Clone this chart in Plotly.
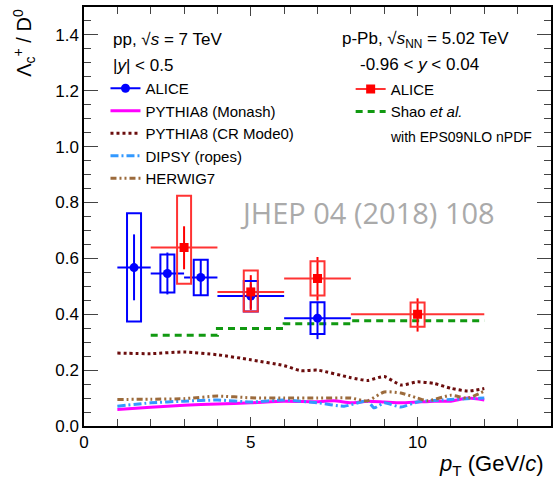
import plotly.graph_objects as go

# ---------------- data ----------------
# ALICE pp 7 TeV (blue)
pp_pt = [1.5, 2.5, 3.5, 5.0, 7.0]
pp_halfbin = [0.5, 0.5, 0.5, 1.0, 1.0]
pp_val = [0.567, 0.546, 0.532, 0.465, 0.386]
pp_stat_up = [0.119, 0.075, 0.065, 0.045, 0.059]
pp_stat_dn = [0.117, 0.075, 0.065, 0.045, 0.075]
pp_sys_hi = [0.762, 0.614, 0.595, 0.519, 0.443]
pp_sys_lo = [0.374, 0.478, 0.468, 0.410, 0.329]

# ALICE p-Pb 5.02 TeV (red)
ppb_pt = [3.0, 5.0, 7.0, 10.0]
ppb_halfbin = [1.0, 1.0, 1.0, 2.0]
ppb_val = [0.639, 0.480, 0.528, 0.400]
ppb_stat_up = [0.076, 0.060, 0.077, 0.057]
ppb_stat_dn = [0.078, 0.065, 0.079, 0.062]
ppb_sys_hi = [0.824, 0.557, 0.590, 0.442]
ppb_sys_lo = [0.509, 0.410, 0.467, 0.355]

# Shao et al. (step)
shao_pt = [2, 4, 6, 8, 12]
shao_val = [0.325, 0.349, 0.366, 0.377, 0.377]

# PYTHIA8 CR Mode0
cr_pt = [1, 2, 3, 4, 5, 6, 6.5, 7, 8, 8.5, 9, 9.5, 10, 10.5, 11, 11.5, 12]
cr_val = [0.261, 0.259, 0.265, 0.255, 0.237, 0.216, 0.198, 0.200, 0.173, 0.163,
          0.177, 0.147, 0.158, 0.152, 0.135, 0.125, 0.134]

# HERWIG7
hw_pt = [1, 2, 3, 4, 5, 6, 7, 8, 8.5, 9, 9.5, 10, 10.3, 11, 11.5, 12]
hw_val = [0.095, 0.096, 0.098, 0.107, 0.101, 0.100, 0.100, 0.100, 0.090, 0.122,
          0.118, 0.100, 0.090, 0.110, 0.100, 0.125]

# DIPSY (ropes)
dp_pt = [1, 2, 3, 4, 5, 6, 7, 7.8, 8.5, 8.7, 9, 9.5, 10, 11, 12]
dp_val = [0.071, 0.083, 0.089, 0.093, 0.086, 0.093, 0.083, 0.071, 0.089, 0.065,
          0.083, 0.068, 0.086, 0.095, 0.100]

# PYTHIA8 Monash
mo_pt = [1, 2, 3, 4, 5, 6, 7, 7.5, 8, 8.5, 9, 9.5, 10, 10.5, 11, 11.5, 12]
mo_val = [0.059, 0.067, 0.074, 0.079, 0.083, 0.089, 0.087, 0.090, 0.083, 0.089,
          0.086, 0.083, 0.086, 0.089, 0.089, 0.100, 0.093]

FONT = "Liberation Sans, Arial, sans-serif"
BLUE = "#0000ff"
RED = "#ff0000"
RED_LINE = "#ff3333"

fig = go.Figure()

# model curves
fig.add_trace(go.Scatter(x=mo_pt, y=mo_val, mode="lines", name="PYTHIA8 (Monash)",
                         line=dict(color="#ff00ff", width=3, shape="spline", smoothing=0.6),
                         legend="legend"))
fig.add_trace(go.Scatter(x=cr_pt, y=cr_val, mode="lines", name="PYTHIA8 (CR Mode0)",
                         line=dict(color="#6b0d0d", width=3, dash="dot", shape="spline", smoothing=0.6),
                         legend="legend"))
fig.add_trace(go.Scatter(x=dp_pt, y=dp_val, mode="lines", name="DIPSY (ropes)",
                         line=dict(color="#3399ff", width=3, dash="8px,3px,2px,3px",
                                   shape="spline", smoothing=0.6),
                         legend="legend"))
fig.add_trace(go.Scatter(x=hw_pt, y=hw_val, mode="lines", name="HERWIG7",
                         line=dict(color="#9c6b3c", width=3, dash="6px,3px,2px,3px,2px,3px",
                                   shape="spline", smoothing=0.6),
                         legend="legend"))
fig.add_trace(go.Scatter(x=shao_pt, y=shao_val, mode="lines", name="Shao <i>et al.</i>",
                         line=dict(color="#119911", width=3, dash="7px,5px", shape="hv"),
                         legend="legend2"))

# systematic boxes
for x, lo, hi in zip(pp_pt, pp_sys_lo, pp_sys_hi):
    fig.add_shape(type="rect", xref="x", yref="y", x0=x - 0.21, x1=x + 0.21, y0=lo, y1=hi,
                  line=dict(color=BLUE, width=2), fillcolor="rgba(0,0,0,0)")
for x, lo, hi in zip(ppb_pt, ppb_sys_lo, ppb_sys_hi):
    fig.add_shape(type="rect", xref="x", yref="y", x0=x - 0.21, x1=x + 0.21, y0=lo, y1=hi,
                  line=dict(color=RED_LINE, width=2), fillcolor="rgba(0,0,0,0)")

# data points
fig.add_trace(go.Scatter(x=pp_pt, y=pp_val, mode="markers", showlegend=False,
                         marker=dict(color=BLUE, size=9, symbol="circle"),
                         error_x=dict(type="data", array=pp_halfbin, color=BLUE, thickness=2, width=0),
                         error_y=dict(type="data", array=pp_stat_up, arrayminus=pp_stat_dn,
                                      color=BLUE, thickness=2, width=0)))
fig.add_trace(go.Scatter(x=ppb_pt, y=ppb_val, mode="markers", showlegend=False,
                         marker=dict(color=RED, size=9, symbol="square"),
                         error_x=dict(type="data", array=ppb_halfbin, color=RED_LINE, thickness=2, width=0),
                         error_y=dict(type="data", array=ppb_stat_up, arrayminus=ppb_stat_dn,
                                      color=RED, thickness=2, width=0)))

# legend entries for the data
fig.add_trace(go.Scatter(x=[None], y=[None], mode="lines+markers", name="ALICE",
                         line=dict(color=BLUE, width=2), marker=dict(color=BLUE, size=9),
                         legend="legend", legendrank=1))
fig.add_trace(go.Scatter(x=[None], y=[None], mode="lines+markers", name="ALICE",
                         line=dict(color=RED_LINE, width=2),
                         marker=dict(color=RED, size=9, symbol="square"),
                         legend="legend2", legendrank=1))

ann = []
ann.append(dict(text="pp, √<i>s</i> = 7 TeV", x=0.0585, y=0.9216, xref="paper", yref="paper",
                xanchor="left", yanchor="middle", showarrow=False, font=dict(size=17, family=FONT)))
ann.append(dict(text="|<i>y</i>| < 0.5", x=0.0585, y=0.86, xref="paper", yref="paper",
                xanchor="left", yanchor="middle", showarrow=False, font=dict(size=17, family=FONT)))
ann.append(dict(text="p-Pb, √<i>s</i><sub>NN</sub> = 5.02 TeV", x=0.915, y=0.9216, xref="paper",
                yref="paper", xanchor="right", yanchor="middle", showarrow=False,
                font=dict(size=17, family=FONT)))
ann.append(dict(text="-0.96 < <i>y</i> < 0.04", x=0.7186, y=0.862, xref="paper", yref="paper",
                xanchor="center", yanchor="middle", showarrow=False, font=dict(size=17, family=FONT)))
ann.append(dict(text="with EPS09NLO nPDF", x=0.652, y=0.69, xref="paper", yref="paper",
                xanchor="left", yanchor="middle", showarrow=False, font=dict(size=14, family=FONT)))
ann.append(dict(text="JHEP 04 (2018) 108", x=0.608, y=0.5095, xref="paper", yref="paper",
                xanchor="center", yanchor="middle", showarrow=False,
                font=dict(size=29, family="Open Sans, sans-serif", color="#aaaaaa")))
ann.append(dict(text="Λ<sub>c</sub><sup>+</sup> / D<sup>0</sup>", x=-0.129, y=1.0, xref="paper",
                yref="paper", xanchor="center", yanchor="top", textangle=-90, showarrow=False,
                font=dict(size=20, family=FONT)))
ann.append(dict(text="<i>p</i><sub>T</sub> (GeV/<i>c</i>)", x=0.99, y=-0.055, xref="paper",
                yref="paper", xanchor="right", yanchor="top", showarrow=False,
                font=dict(size=22, family=FONT)))

fig.update_layout(
    width=558, height=490,
    margin=dict(l=84, r=5, t=5, b=64),
    paper_bgcolor="white", plot_bgcolor="white",
    font=dict(family=FONT, color="black", size=17),
    annotations=ann,
    legend=dict(x=0.046, y=0.845, xanchor="left", yanchor="top", bgcolor="rgba(0,0,0,0)",
                font=dict(size=15, family=FONT), tracegroupgap=0, itemwidth=30,
                traceorder="normal"),
    legend2=dict(x=0.571, y=0.843, xanchor="left", yanchor="top", bgcolor="rgba(0,0,0,0)",
                 font=dict(size=15, family=FONT), tracegroupgap=0, itemwidth=30,
                 traceorder="normal"),
    xaxis=dict(range=[0, 14], tickvals=[0, 5, 10], ticktext=["0", "5", "10"],
               ticks="inside", ticklen=9, tickwidth=1, showline=True, linecolor="black",
               linewidth=1.5, mirror="ticks", showgrid=False, zeroline=False,
               minor=dict(dtick=1, tick0=0, ticks="inside", ticklen=7, showgrid=False),
               tickfont=dict(size=17)),
    yaxis=dict(range=[0, 1.5], tickvals=[0, 0.2, 0.4, 0.6, 0.8, 1.0, 1.2, 1.4],
               ticktext=["0.0", "0.2", "0.4", "0.6", "0.8", "1.0", "1.2", "1.4"],
               ticks="inside", ticklen=14, tickwidth=1, showline=True, linecolor="black",
               linewidth=1.5, mirror="ticks", showgrid=False, zeroline=False,
               minor=dict(dtick=0.05, tick0=0, ticks="inside", ticklen=7, showgrid=False),
               tickfont=dict(size=17)),
)

fig.write_html("out.html", config={"displayModeBar": False},
               post_script="document.body.style.margin='0';")
